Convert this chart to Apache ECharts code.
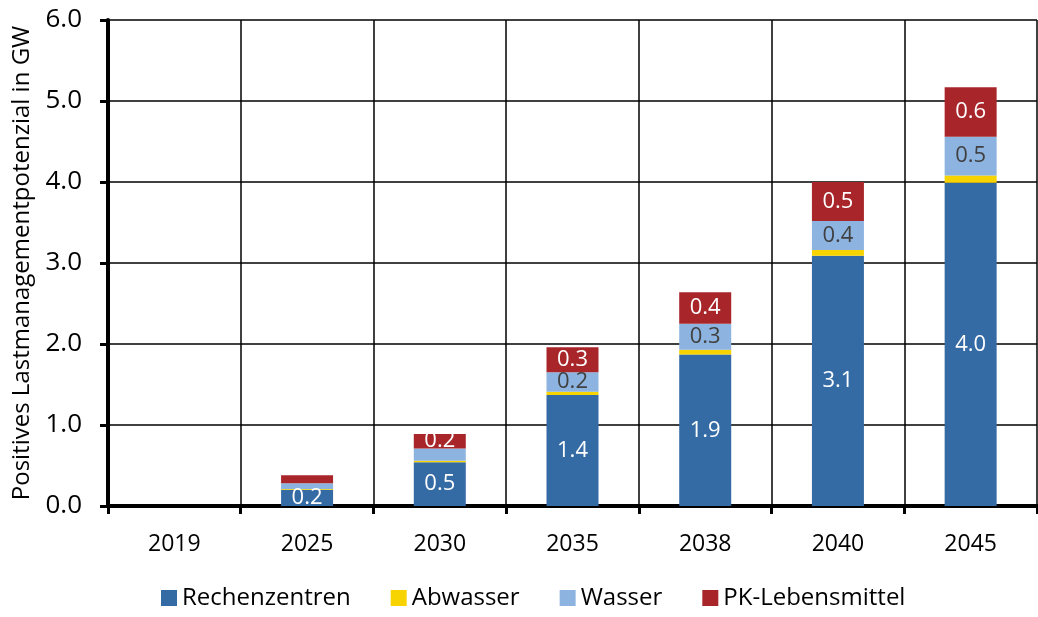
<!DOCTYPE html>
<html lang="de">
<head>
    <meta charset="UTF-8">
    <title>Lastmanagementpotenzial</title>
    <style>
        html, body { margin: 0; padding: 0; background: #fff; }
        #main { width: 1038px; height: 617px; }
    </style>
    <script src="https://cdn.jsdelivr.net/npm/echarts@6/dist/echarts.min.js"></script>
</head>
<body>

<div id="main"></div>

<script>

    // Jahre (x-Achse)
    var years = ['2019', '2025', '2030', '2035', '2038', '2040', '2045'];
    // Werte in GW
    var rechenzentren = [0, 0.20, 0.54, 1.37, 1.87, 3.09, 3.99];
    var abwasser      = [0, 0.01, 0.02, 0.04, 0.06, 0.07, 0.09];
    var wasser        = [0, 0.07, 0.15, 0.24, 0.32, 0.36, 0.48];
    var pkLebensmittel = [0, 0.10, 0.18, 0.31, 0.39, 0.48, 0.61];
    var yTicks = [0, 1, 2, 3, 4, 5, 6];

    var fontName = '"Open Sans", "Noto Sans", sans-serif';

    // kleine Segmente ohne Beschriftung
    function labelFmt(p) {
        return p.value >= 0.16 ? p.value.toFixed(1) : '';
    }

    function makeSeries(name, values, color, labelColor) {
        return {
            name: name,
            type: 'bar',
            stack: 'total',
            barWidth: 52,
            data: values,
            itemStyle: { color: color },
            label: labelColor ? {
                show: true,
                position: 'inside',
                color: labelColor,
                fontSize: 22,
                fontFamily: fontName,
                formatter: labelFmt
            } : { show: false },
            emphasis: { disabled: true }
        };
    }

    var chartDom = document.getElementById('main');
    var myChart = echarts.init(chartDom);

    var option = {
        animation: false,
        textStyle: { fontFamily: fontName },
        grid: { left: 108, right: 1, top: 20, bottom: 111 },
        legend: {
            bottom: 2,
            left: 156,
            itemWidth: 16,
            itemHeight: 16,
            itemGap: 40,
            icon: 'rect',
            textStyle: { fontSize: 24, color: '#000', fontFamily: fontName },
            data: ['Rechenzentren', 'Abwasser', 'Wasser', 'PK-Lebensmittel']
        },
        xAxis: {
            type: 'category',
            data: years,
            axisLine: { lineStyle: { color: '#000', width: 4 } },
            axisTick: { show: true, length: 8, lineStyle: { color: '#000', width: 3 } },
            axisLabel: { fontSize: 23, color: '#000', margin: 27 },
            splitLine: { show: true, lineStyle: { color: '#000', width: 1.5 } }
        },
        yAxis: {
            type: 'value',
            min: yTicks[0],
            max: yTicks[yTicks.length - 1],
            interval: 1,
            name: 'Positives Lastmanagementpotenzial in GW',
            nameLocation: 'middle',
            nameGap: 72,
            nameTextStyle: { fontSize: 24, color: '#000' },
            axisLine: { show: true, lineStyle: { color: '#000', width: 4 } },
            axisTick: { show: true, length: 8, lineStyle: { color: '#000', width: 3 } },
            axisLabel: {
                fontSize: 26,
                color: '#000',
                margin: 26,
                formatter: function (v) { return v.toFixed(1); }
            },
            splitLine: { show: true, lineStyle: { color: '#000', width: 1.5 } }
        },
        series: [
            makeSeries('Rechenzentren', rechenzentren, '#356ba5', '#ffffff'),
            makeSeries('Abwasser', abwasser, '#f7d300', null),
            makeSeries('Wasser', wasser, '#8db4e0', '#404040'),
            makeSeries('PK-Lebensmittel', pkLebensmittel, '#a8262a', '#ffffff')
        ]
    };

    myChart.setOption(option);

</script>

</body>
</html>
